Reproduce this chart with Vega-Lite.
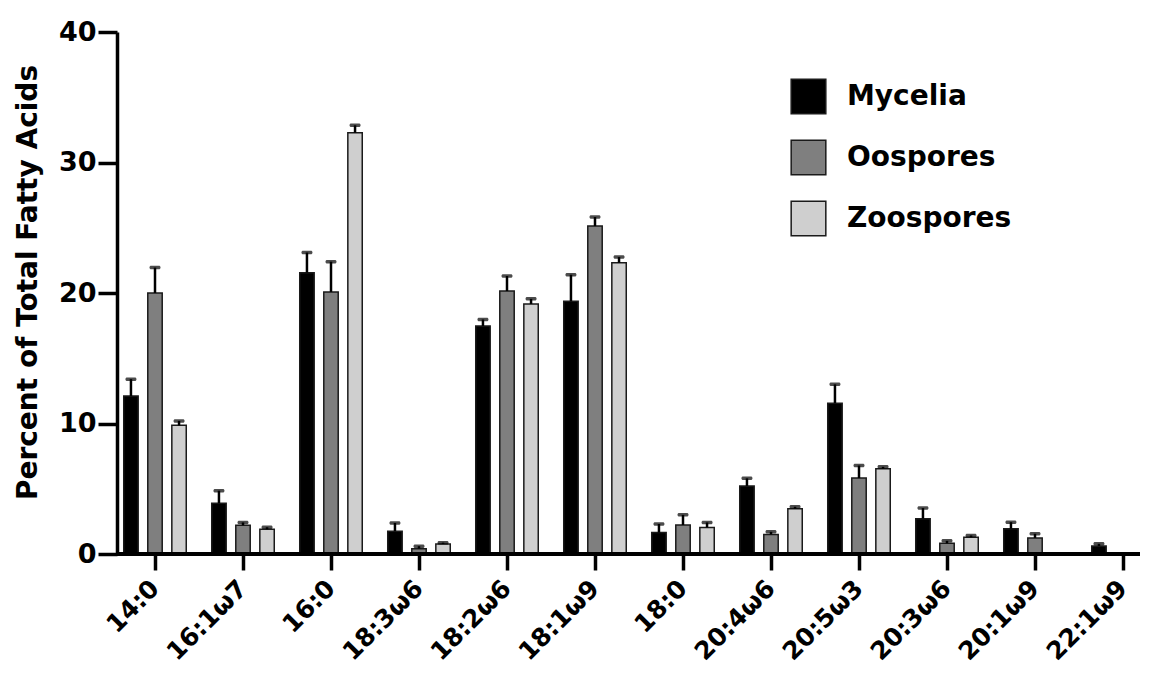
{
  "$schema": "https://vega.github.io/schema/vega-lite/v6.json",
  "width": 1023,
  "height": 522,
  "autosize": "none",
  "padding": {"left": 117, "top": 32, "right": 12, "bottom": 123},
  "background": "white",
  "config": {"view": {"stroke": null}, "font": "DejaVu Sans"},
  "data": {"values": [
    {"acid": "14:0", "group": "Mycelia", "value": 12.1, "hi": 13.4},
    {"acid": "14:0", "group": "Oospores", "value": 20.0, "hi": 21.95},
    {"acid": "14:0", "group": "Zoospores", "value": 9.86, "hi": 10.2},
    {"acid": "16:1ω7", "group": "Mycelia", "value": 3.88, "hi": 4.85},
    {"acid": "16:1ω7", "group": "Oospores", "value": 2.2, "hi": 2.42},
    {"acid": "16:1ω7", "group": "Zoospores", "value": 1.89, "hi": 2.05},
    {"acid": "16:0", "group": "Mycelia", "value": 21.56, "hi": 23.1},
    {"acid": "16:0", "group": "Oospores", "value": 20.08, "hi": 22.4},
    {"acid": "16:0", "group": "Zoospores", "value": 32.28, "hi": 32.85},
    {"acid": "18:3ω6", "group": "Mycelia", "value": 1.74, "hi": 2.38},
    {"acid": "18:3ω6", "group": "Oospores", "value": 0.41, "hi": 0.6},
    {"acid": "18:3ω6", "group": "Zoospores", "value": 0.77, "hi": 0.87},
    {"acid": "18:2ω6", "group": "Mycelia", "value": 17.47, "hi": 17.97},
    {"acid": "18:2ω6", "group": "Oospores", "value": 20.15, "hi": 21.3},
    {"acid": "18:2ω6", "group": "Zoospores", "value": 19.16, "hi": 19.55},
    {"acid": "18:1ω9", "group": "Mycelia", "value": 19.36, "hi": 21.4},
    {"acid": "18:1ω9", "group": "Oospores", "value": 25.13, "hi": 25.82},
    {"acid": "18:1ω9", "group": "Zoospores", "value": 22.32, "hi": 22.75},
    {"acid": "18:0", "group": "Mycelia", "value": 1.64, "hi": 2.3},
    {"acid": "18:0", "group": "Oospores", "value": 2.22, "hi": 3.0},
    {"acid": "18:0", "group": "Zoospores", "value": 2.04, "hi": 2.42},
    {"acid": "20:4ω6", "group": "Mycelia", "value": 5.21, "hi": 5.8},
    {"acid": "20:4ω6", "group": "Oospores", "value": 1.5, "hi": 1.7},
    {"acid": "20:4ω6", "group": "Zoospores", "value": 3.47, "hi": 3.62},
    {"acid": "20:5ω3", "group": "Mycelia", "value": 11.55, "hi": 13.0},
    {"acid": "20:5ω3", "group": "Oospores", "value": 5.82, "hi": 6.78},
    {"acid": "20:5ω3", "group": "Zoospores", "value": 6.54, "hi": 6.68},
    {"acid": "20:3ω6", "group": "Mycelia", "value": 2.71, "hi": 3.52},
    {"acid": "20:3ω6", "group": "Oospores", "value": 0.82, "hi": 1.01},
    {"acid": "20:3ω6", "group": "Zoospores", "value": 1.28, "hi": 1.42},
    {"acid": "20:1ω9", "group": "Mycelia", "value": 1.94, "hi": 2.44},
    {"acid": "20:1ω9", "group": "Oospores", "value": 1.23, "hi": 1.55},
    {"acid": "22:1ω9", "group": "Mycelia", "value": 0.61, "hi": 0.78}
  ]},
  "layer": [
    {
      "mark": {"type": "bar", "stroke": "#1a1a1a", "strokeWidth": 1.5},
      "encoding": {
        "x": {
          "field": "acid", "type": "nominal", "sort": null,
          "scale": {"range": [-6, 1050], "paddingInner": 0, "paddingOuter": 0},
          "axis": {
            "title": null, "domain": false, "bandPosition": 0.5,
            "tickSize": 16, "tickWidth": 3.5, "tickColor": "black",
            "labelAngle": -45, "labelAlign": "right", "labelBaseline": "middle",
            "labelFont": "DejaVu Sans", "labelFontWeight": "bold", "labelFontSize": 25,
            "labelColor": "black", "labelPadding": 14
          }
        },
        "xOffset": {
          "field": "group", "type": "nominal",
          "sort": ["Mycelia", "Oospores", "Zoospores"],
          "scale": {"paddingInner": 0.4, "paddingOuter": 0.53}
        },
        "y": {
          "field": "value", "type": "quantitative",
          "scale": {"domain": [0, 40], "nice": false},
          "axis": {
            "title": "Percent of Total Fatty Acids",
            "titleFont": "DejaVu Sans", "titleFontWeight": "bold", "titleFontSize": 28,
            "titleColor": "black", "titlePadding": 16, "titleY": 250,
            "values": [0, 10, 20, 30, 40], "grid": false,
            "domainColor": "black", "domainWidth": 3.5,
            "tickColor": "black", "tickWidth": 3.5, "tickSize": 19,
            "labelFont": "DejaVu Sans", "labelFontWeight": "bold", "labelFontSize": 27,
            "labelColor": "black", "labelPadding": 2
          }
        },
        "color": {
          "field": "group", "type": "nominal",
          "scale": {"domain": ["Mycelia", "Oospores", "Zoospores"], "range": ["#000000", "#7f7f7f", "#cfcfcf"]},
          "legend": {
            "title": null, "orient": "none", "legendX": 673, "legendY": 46,
            "symbolType": "square", "symbolSize": 1200,
            "symbolStrokeColor": "#1a1a1a", "symbolStrokeWidth": 1.5,
            "labelFont": "DejaVu Sans", "labelFontWeight": "bold", "labelFontSize": 28,
            "labelColor": "black", "labelOffset": 20, "rowPadding": 20, "labelLimit": 400
          }
        }
      }
    },
    {
      "mark": {"type": "rule", "color": "black", "strokeWidth": 2.5},
      "encoding": {
        "x": {"field": "acid", "type": "nominal", "sort": null},
        "xOffset": {"field": "group", "type": "nominal", "sort": ["Mycelia", "Oospores", "Zoospores"]},
        "y": {"field": "value", "type": "quantitative"},
        "y2": {"field": "hi"}
      }
    },
    {
      "mark": {"type": "tick", "color": "black", "thickness": 3.5, "size": 11, "cornerRadius": 1.5},
      "encoding": {
        "x": {"field": "acid", "type": "nominal", "sort": null},
        "xOffset": {"field": "group", "type": "nominal", "sort": ["Mycelia", "Oospores", "Zoospores"]},
        "y": {"field": "hi", "type": "quantitative"}
      }
    },
    {
      "mark": {"type": "rule", "color": "black", "strokeWidth": 3.5},
      "encoding": {"y": {"datum": 0}}
    }
  ]
}
